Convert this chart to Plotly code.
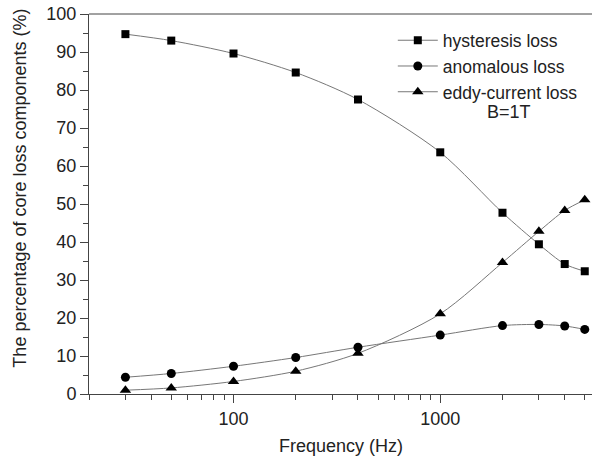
import plotly.graph_objects as go
import math

freq = [30, 50, 100, 200, 400, 1000, 2000, 3000, 4000, 5000]
hysteresis = [94.7, 93.0, 89.6, 84.6, 77.5, 63.6, 47.7, 39.4, 34.2, 32.3]
anomalous = [4.4, 5.4, 7.3, 9.6, 12.3, 15.5, 18.0, 18.3, 17.9, 17.0]
eddy = [1.0, 1.6, 3.3, 6.0, 10.7, 21.1, 34.6, 42.8, 48.3, 51.1]

names = ["hysteresis loss", "anomalous loss", "eddy-current loss"]
symbols = ["square", "circle", "triangle-up"]
series = [hysteresis, anomalous, eddy]
sizes = [8, 9, 10]

fig = go.Figure()
for name, sym, ys, sz in zip(names, symbols, series, sizes):
    fig.add_trace(go.Scatter(
        x=freq, y=ys, name=name, mode="lines+markers",
        line=dict(color="#777777", width=1, shape="spline", smoothing=0.8),
        marker=dict(symbol=sym, size=sz, color="black"),
    ))

font = dict(family="Liberation Sans, Arial, sans-serif", size=18, color="#222222")

minor_x = [20, 30, 40, 50, 60, 70, 80, 90, 200, 300, 400, 500, 600, 700, 800, 900,
           2000, 3000, 4000, 5000]

fig.update_layout(
    width=592, height=456,
    margin=dict(l=89, r=0, t=14, b=62, autoexpand=False),
    paper_bgcolor="white", plot_bgcolor="white",
    font=font,
    showlegend=True,
    legend=dict(x=0.604, y=0.978, xanchor="left", yanchor="top",
                bgcolor="rgba(0,0,0,0)", font=dict(size=17.5, color="#222222"),
                itemwidth=40, tracegroupgap=0),
    xaxis=dict(
        type="log", range=[math.log10(20), 3.734], automargin=False,
        tickvals=[100, 1000], ticktext=["100", "1000"], ticklabeloverflow="allow",
        ticks="outside", ticklen=8, tickcolor="#444", tickwidth=1,
        minor=dict(tickvals=minor_x, ticks="outside", ticklen=5, tickcolor="#444", tickwidth=1),
        showline=True, linecolor="#444", linewidth=1, mirror=False,
        showgrid=False, zeroline=False,
    ),
    yaxis=dict(
        range=[0, 100], automargin=False, ticklabeloverflow="allow",
        tickvals=list(range(0, 101, 10)),
        ticks="outside", ticklen=8, tickcolor="#444", tickwidth=1,
        minor=dict(dtick=5, ticks="outside", ticklen=5, tickcolor="#444", tickwidth=1),
        showline=True, linecolor="#444", linewidth=1,
        showgrid=False, zeroline=False,
    ),
    shapes=[dict(type="line", xref="paper", yref="paper", x0=0, x1=1, y0=1, y1=1,
                 line=dict(color="#444", width=1))],
    annotations=[
        dict(text="B=1T", xref="paper", yref="paper", x=0.834, y=0.742,
             xanchor="center", yanchor="middle", showarrow=False,
             font=dict(size=18, color="#222222")),
        dict(text="Frequency (Hz)", xref="paper", yref="paper", x=0.5, y=-0.137,
             xanchor="center", yanchor="middle", showarrow=False,
             font=dict(size=18, color="#222222")),
        dict(text="The percentage of core loss components (%)", xref="paper", yref="paper",
             x=-0.138, y=0.542, textangle=-90, xanchor="center", yanchor="middle",
             showarrow=False, font=dict(size=18, color="#222222")),
    ],
)

# remove the browser's default 8px body margin so the figure fills the window
fig.write_html("out.html", config={"displayModeBar": False},
               post_script="document.body.style.margin='0';")
